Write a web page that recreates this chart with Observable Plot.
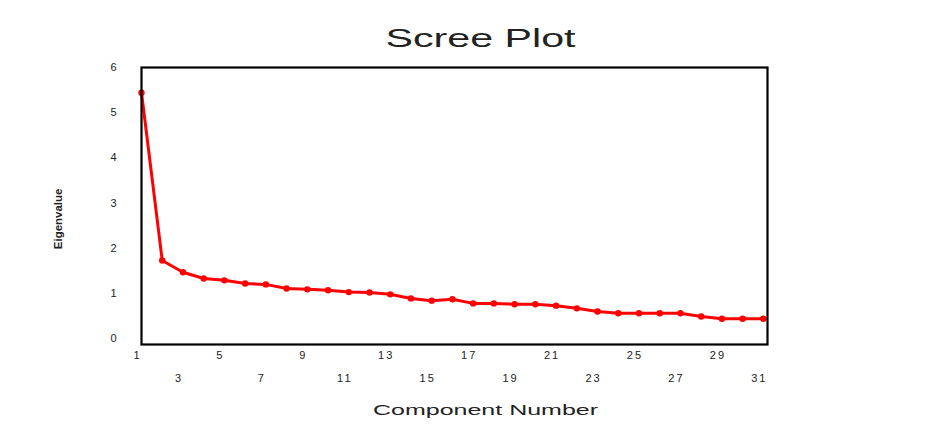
<!DOCTYPE html>
<html>
<head>
<meta charset="utf-8">
<script src="https://cdn.jsdelivr.net/npm/d3@7"></script>
<script src="https://cdn.jsdelivr.net/npm/@observablehq/plot@0.6"></script>
<style>
  html, body { margin: 0; padding: 0; background: #fff; }
  svg { display: block; }
</style>
</head>
<body>
<div id="chart"></div>
<script>
const components = [1,2,3,4,5,6,7,8,9,10,11,12,13,14,15,16,17,18,19,20,21,22,23,24,25,26,27,28,29,30,31];
const eigenvalues = [5.44,1.73,1.47,1.33,1.29,1.22,1.20,1.11,1.09,1.07,1.03,1.02,0.98,0.89,0.84,0.87,0.78,0.78,0.76,0.76,0.73,0.67,0.60,0.56,0.56,0.56,0.56,0.49,0.44,0.44,0.44];
const xTicksUpper = [1,5,9,13,17,21,25,29];
const xTicksLower = [3,7,11,15,19,23,27,31];
const yTicks = [0,1,2,3,4,5,6];
const titleText = "Scree Plot";
const xLabel = "Component Number";
const yLabel = "Eigenvalue";

const data = components.map((c, i) => ({component: c, eigenvalue: eigenvalues[i]}));

const font = "Liberation Sans, Arial, sans-serif";

const chart = Plot.plot({
  width: 948,
  height: 433,
  marginLeft: 141,
  marginRight: 181,
  marginTop: 67,
  marginBottom: 89,
  style: {fontFamily: font, background: "#fff", color: "#222"},
  x: {domain: [1, 31.2], axis: null},
  y: {domain: [-0.13, 6.0], axis: null},
  marks: [
    Plot.line(data, {x: "component", y: "eigenvalue", stroke: "#ff0000", strokeWidth: 3}),
    Plot.dot(data, {x: "component", y: "eigenvalue", r: 3.2, fill: "#ff0000"}),
    Plot.frame({stroke: "#000", strokeWidth: 2.2}),
    Plot.text(yTicks, {y: d => d, text: d => String(d), frameAnchor: "left", dx: -28, textAnchor: "middle", fontSize: 11, fill: "#222", className: "yticks"}),
    Plot.text(xTicksUpper, {x: d => d, text: d => String(d), frameAnchor: "bottom", dy: 11, dx: -4, lineAnchor: "middle", fontSize: 11, fill: "#222", className: "xticks"}),
    Plot.text(xTicksLower, {x: d => d, text: d => String(d), frameAnchor: "bottom", dy: 34, dx: -4, lineAnchor: "middle", fontSize: 11, fill: "#222", className: "xticks"}),
    Plot.text([titleText], {frameAnchor: "top", dy: -29, dx: 26, lineAnchor: "middle", fontSize: 25, fill: "#222", className: "ttl"}),
    Plot.text([xLabel], {frameAnchor: "bottom", dy: 66, dx: 31, lineAnchor: "middle", fontSize: 14, fill: "#222", className: "xlab"}),
    Plot.text([yLabel], {y: () => 2.65, frameAnchor: "left", dx: -83, rotate: -90, textAnchor: "middle", lineAnchor: "middle", fontSize: 11.5, fontWeight: "bold", fill: "#222", className: "ylab"})
  ]
});

document.getElementById("chart").appendChild(chart);

const svg = d3.select(chart);
svg.selectAll(".ttl text").attr("textLength", 190).attr("lengthAdjust", "spacingAndGlyphs");
svg.selectAll(".xlab text").attr("textLength", 225).attr("lengthAdjust", "spacingAndGlyphs");
svg.selectAll(".xticks text").style("letter-spacing", "2px");
</script>
</body>
</html>
